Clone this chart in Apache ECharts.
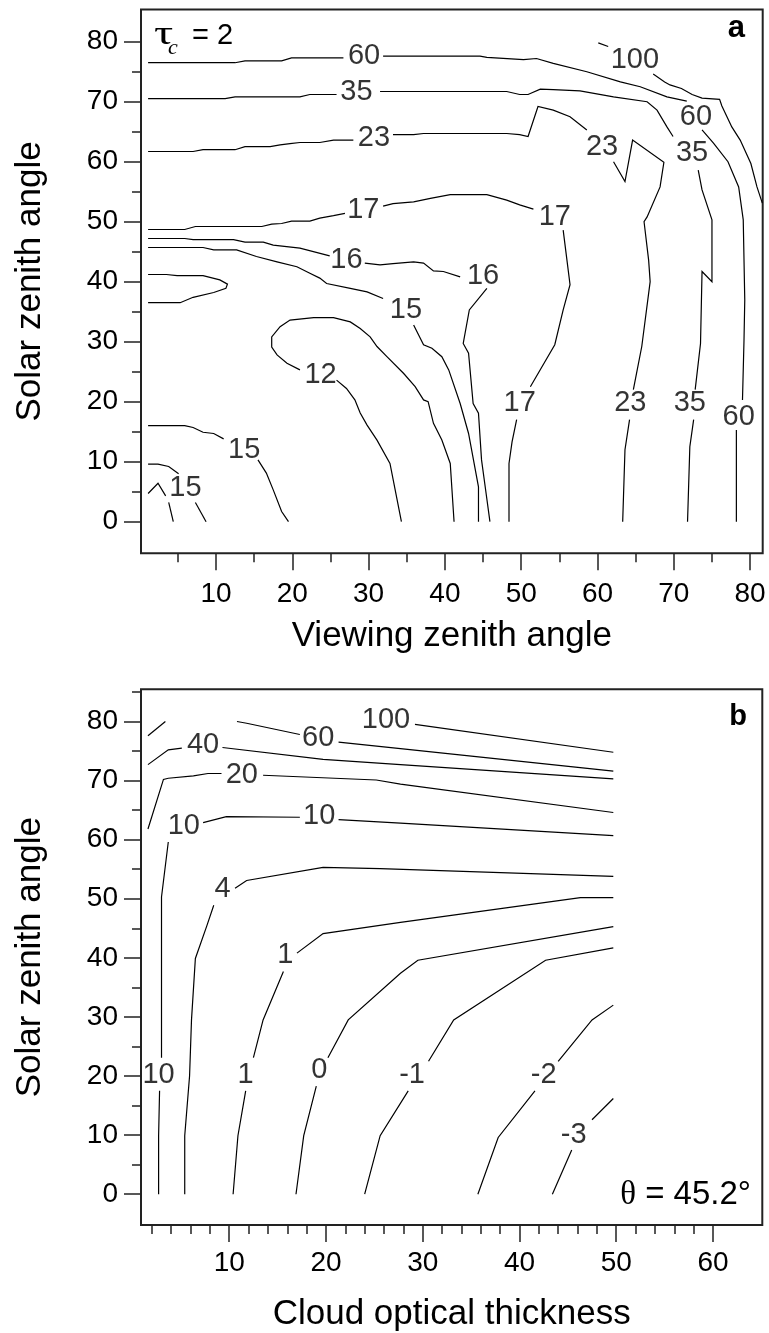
<!DOCTYPE html>
<html><head><meta charset="utf-8">
<script src="https://cdn.jsdelivr.net/npm/echarts@6/dist/echarts.min.js"></script>
<style>html,body{margin:0;padding:0;background:#fff}#c{width:769px;height:1333px}</style>
</head><body><div id="c"></div>
<script>
// ---------- axis ticks ----------
const aTicksX = [10,20,30,40,50,60,70,80];
const aMinorX = [5,15,25,35,45,55,65,75];
const aTicksY = [0,10,20,30,40,50,60,70,80];
const aMinorY = [5,15,25,35,45,55,65,75];
const bTicksX = [10,20,30,40,50,60];
const bMinorX = [2,4,6,8,12,14,16,18,22,24,26,28,32,34,36,38,42,44,46,48,52,54,56,58];
const bTicksY = [0,10,20,30,40,50,60,70,80];
const bMinorY = [5,15,25,35,45,55,65,75,85];

// ---------- panel a contours (viewing zenith, solar zenith) ----------
const a100 = [
  [[60.1,79.8],[61.4,79.2]],
  [[67.3,74.6],[68.8,73.3],[69.5,72.8],[71.0,72.2],[72.4,71.2],[73.7,70.6],[76.0,70.4],[76.3,69.3],[77.6,65.8],[78.7,63.6],[80.1,59.7],[80.9,55.8],[81.6,53.1]]
];
const a60 = [
  [[1.1,76.5],[12.5,76.5],[13.8,76.8],[18.6,76.8],[19.9,77.3],[26.7,77.3]],
  [[31.9,77.6],[44.6,77.6],[45.5,77.4],[50.3,77.0],[52.0,77.2],[54.2,76.4],[58.6,75.0],[63.0,73.3],[65.6,72.5],[69.1,70.8],[71.7,70.1]],
  [[73.7,65.3],[75.2,63.1],[77.1,60.0],[78.5,55.8],[79.1,50.3],[79.3,37.0],[79.2,30.3],[79.0,20.3]],
  [[78.2,15.3],[78.2,9.7],[78.2,0]]
];
const a35 = [
  [[1.1,70.5],[11.2,70.5],[12.5,70.8],[21.0,70.8],[22.3,71.2],[25.8,71.2]],
  [[31.5,71.7],[48.1,71.7],[49.8,71.2],[50.9,71.2],[52.5,72.1],[54.2,72.0],[57.7,71.8],[62.1,70.8],[66.5,70.0],[67.8,68.6],[69.1,65.8],[69.9,64.2]],
  [[73.2,58.6],[73.7,55.3],[75.0,50.3],[75.0,40.0],[73.7,41.7],[73.5,29.7],[72.8,22.0]],
  [[72.6,17.0],[72.1,12.5],[71.8,0]]
];
const a23 = [
  [[1.1,61.7],[7.0,61.7],[8.3,62.0],[12.5,62.0],[13.8,62.5],[17.1,62.5],[18.4,62.8],[19.7,63.0],[21.0,63.2],[23.6,63.2],[25.4,63.6],[28.0,63.6]],
  [[33.2,64.5],[35.9,64.5],[37.2,64.7],[48.1,64.7],[49.8,64.5],[50.9,64.2],[52.2,69.2],[54.2,68.6],[56.4,67.5],[58.6,65.3]],
  [[62.1,60.0],[63.6,56.7],[64.6,63.6],[68.7,59.9],[68.2,55.8],[66.5,50.8],[66.1,50.0],[66.7,43.6],[66.9,40.0],[65.8,29.2],[64.7,22.0]],
  [[64.2,17.0],[63.6,12.0],[63.3,0]]
];
const a17 = [
  [[1.1,48.7],[5.9,48.7],[7.3,49.2],[16.0,49.2],[17.3,49.6],[18.6,49.7],[19.9,50.1],[22.3,50.1],[23.6,50.6],[25.4,51.0],[26.9,51.4]],
  [[31.9,52.6],[33.2,53.0],[35.9,53.3],[38.1,53.9],[40.7,54.5],[45.5,54.5],[48.1,53.6],[49.8,52.8],[51.6,52.1]],
  [[55.5,48.6],[56.4,39.5],[55.5,35.3],[54.4,29.5],[51.2,22.5]],
  [[49.4,17.0],[48.8,13.3],[48.4,9.7],[48.4,0]]
];
const a16 = [
  [[1.1,47.2],[5.9,47.2],[7.0,47.0],[12.3,47.0],[13.8,46.6],[16.2,46.6],[17.5,46.1],[21.0,45.6],[24.9,44.3]],
  [[29.5,43.1],[31.5,42.8],[33.2,43.0],[35.9,43.3],[37.2,43.1],[38.5,41.8],[39.8,41.7],[42.0,40.8]],
  [[45.5,38.9],[43.2,35.3],[42.4,29.7],[43.1,28.1],[43.7,19.7],[44.4,18.1],[44.8,10.3],[45.4,4.7],[45.9,0]]
];
const a15 = [
  [[1.1,45.7],[8.3,45.7],[9.7,45.3],[12.7,45.3],[15.3,44.2],[18.0,43.3],[20.6,42.5],[22.3,41.4],[23.6,40.6],[24.5,39.7],[27.6,38.9],[29.8,38.3],[31.9,37.2]],
  [[35.9,32.8],[37.2,29.5],[38.3,28.9],[39.6,27.5],[40.5,25.3],[42.0,19.7],[43.1,14.7],[44.4,5.8],[44.4,0]],
  [[1.1,41.2],[3.5,41.2],[4.9,41.0],[8.3,41.0],[10.5,40.3],[11.5,39.6],[11.3,38.9],[9.7,38.2],[7.0,37.4],[5.3,36.5],[1.1,36.5]],
  [[1.1,16.0],[5.9,16.0],[7.0,15.7],[8.3,14.9],[9.7,14.7],[11.0,13.8]],
  [[15.5,10.3],[16.6,8.1],[17.5,5.3],[18.6,1.7],[19.5,0]],
  [[1.1,9.6],[2.4,9.6],[3.8,9.2],[5.1,8.0]],
  [[7.3,3.2],[8.7,0]],
  [[1.1,4.7],[2.4,6.4],[3.4,4.3]],
  [[3.8,3.2],[4.4,0]]
];
const a12 = [
  [[41.2,0],[40.7,9.7],[39.6,13.6],[38.5,16.4],[37.8,20.0],[37.2,20.3],[36.1,22.5],[34.6,24.7],[32.4,27.5],[31.1,29.2],[30.2,30.8],[28.9,32.2],[27.6,33.3],[25.4,34.0],[22.8,34.0],[19.7,33.6],[18.4,32.5],[17.3,30.8],[17.3,29.1],[18.0,27.8],[19.3,26.4],[21.0,25.3]],
  [[25.8,23.6],[27.1,22.2],[28.2,20.3],[28.9,18.1],[29.8,16.1],[31.1,13.6],[32.8,9.7],[34.3,0]]
];
const aLabels = [
  ['60',29.4,77.6],['35',28.4,71.7],['23',30.7,63.9],['17',29.3,52.0],['16',27.1,43.6],
  ['100',64.9,77.0],['60',72.9,67.5],['35',72.4,61.4],['23',60.6,62.5],['17',54.4,50.8],
  ['16',45.0,41.0],['15',34.9,35.2],['12',23.7,24.5],['17',49.8,19.8],['23',64.3,19.8],
  ['35',72.1,19.8],['60',78.5,17.5],['15',13.7,12.0],['15',6.0,5.6]
];

// ---------- panel b contours (cloud optical thickness, solar zenith) ----------
const b100 = [[[29.2,79.5],[49.7,74.8]]];
const b60 = [
  [[1.6,77.6],[3.4,80.0]],
  [[10.8,80.0],[11.8,79.7],[17.3,77.8]],
  [[21.3,76.5],[27.7,75.4],[49.7,71.6]]
];
const b40 = [
  [[1.6,72.7],[3.7,75.2],[5.1,75.5]],
  [[9.3,75.6],[19.7,73.6],[27.7,72.7],[49.7,70.3]]
];
const b20 = [
  [[1.6,61.8],[3.2,70.2],[3.7,70.4],[6.3,70.8],[7.8,71.2],[9.2,71.2]],
  [[13.5,70.9],[25.2,70.1],[27.7,69.4],[49.7,64.6]]
];
const b10 = [
  [[2.7,0],[2.7,9.9],[2.8,17.5]],
  [[3.0,23.1],[3.0,39.9],[3.0,50.3],[3.7,59.6]],
  [[7.3,62.9],[9.7,63.9],[17.3,63.8]],
  [[21.3,63.4],[27.7,62.8],[49.7,60.7]]
];
const b4 = [
  [[49.7,53.8],[25.6,55.1],[19.7,55.3],[11.8,53.1],[10.6,51.8]],
  [[8.4,48.9],[7.7,45.5],[6.5,39.9],[6.1,29.5],[5.9,20.0],[5.4,9.9],[5.4,0]]
];
const b1 = [
  [[49.7,50.2],[46.3,50.2],[27.7,46.0],[19.7,44.1],[17.0,40.8]],
  [[15.6,37.7],[13.5,29.5],[12.5,23.1]],
  [[11.7,17.5],[10.9,9.9],[10.4,0]]
];
const b0 = [
  [[49.7,45.3],[29.5,39.6],[27.7,37.4],[22.3,29.5],[20.2,23.1]],
  [[19.0,18.3],[17.7,9.9],[16.9,0]]
];
const bm1 = [
  [[49.7,41.7],[42.7,39.6],[33.2,29.5],[30.6,22.5]],
  [[28.5,17.5],[25.6,9.9],[24.0,0]]
];
const bm2 = [
  [[49.7,32.0],[47.5,29.5],[44.0,22.5]],
  [[41.6,17.5],[37.8,9.6],[35.7,0]]
];
const bm3 = [
  [[49.7,16.2],[47.5,12.6]],
  [[45.4,7.5],[43.4,0]]
];
const bLabels = [
  ['100',26.2,80.3],['60',19.2,77.2],['40',7.3,76.1],['20',11.3,71.0],['10',5.3,62.3],
  ['10',19.3,64.0],['4',9.3,51.6],['1',15.8,40.5],['10',2.7,20.2],['1',11.7,20.2],
  ['0',19.3,21.0],['-1',28.9,20.2],['-2',42.5,20.2],['-3',45.6,10.1]
];

// ---------- build ----------
const FONT = '"Liberation Sans", Arial, Helvetica, sans-serif';
const SERIF = '"Liberation Serif", "DejaVu Serif", serif';
const INK = '#000';
const FRAME = '#222';

function pieces(groups){ const out=[]; groups.forEach(g=>g.forEach(p=>out.push({coords:p}))); return out; }
function labels(list){ return list.map(l=>({name:l[0], value:[l[1],l[2]]})); }

function majorX(grid,min,max,ticks,name,gap,margin){
  return {type:'value',gridIndex:grid,min:min,max:max,position:'bottom',
    axisLine:{show:false,onZero:false},splitLine:{show:false},
    axisTick:{show:true,customValues:ticks,length:17,lineStyle:{color:FRAME,width:1.5}},
    axisLabel:{show:true,customValues:ticks,margin:margin,fontSize:28,color:INK,fontFamily:FONT},
    name:name,nameLocation:'middle',nameGap:gap,
    nameTextStyle:{fontSize:35,color:INK,fontFamily:FONT}};
}
function minorX(grid,min,max,ticks){
  return {type:'value',gridIndex:grid,min:min,max:max,position:'bottom',offset:0,
    axisLine:{show:false,onZero:false},splitLine:{show:false},axisLabel:{show:false},
    axisTick:{show:true,customValues:ticks,length:9,lineStyle:{color:FRAME,width:1.5}}};
}
function majorY(grid,min,max,ticks,gap){
  return {type:'value',gridIndex:grid,min:min,max:max,position:'left',
    axisLine:{show:false,onZero:false},splitLine:{show:false},
    axisTick:{show:true,customValues:ticks,length:17,lineStyle:{color:FRAME,width:1.5}},
    axisLabel:{show:true,customValues:ticks,margin:23,fontSize:28,color:INK,fontFamily:FONT},
    name:'Solar zenith angle',nameLocation:'middle',nameGap:gap,
    nameTextStyle:{fontSize:35,color:INK,fontFamily:FONT}};
}
function minorY(grid,min,max,ticks){
  return {type:'value',gridIndex:grid,min:min,max:max,position:'left',offset:0,
    axisLine:{show:false,onZero:false},splitLine:{show:false},axisLabel:{show:false},
    axisTick:{show:true,customValues:ticks,length:9,lineStyle:{color:FRAME,width:1.5}}};
}
function lineSeries(xi,yi,data){
  return {type:'lines',coordinateSystem:'cartesian2d',xAxisIndex:xi,yAxisIndex:yi,polyline:true,
    silent:true,data:data,lineStyle:{color:INK,width:1.2,opacity:1,curveness:0},z:3};
}
function labelSeries(xi,yi,data){
  return {type:'scatter',xAxisIndex:xi,yAxisIndex:yi,symbolSize:1,silent:true,
    itemStyle:{color:'rgba(0,0,0,0)'},data:data,z:4,
    label:{show:true,position:'inside',formatter:'{b}',fontSize:29,color:INK,fontFamily:FONT}};
}

const chart = echarts.init(document.getElementById('c'), null, {renderer:'canvas'});
chart.setOption({
  animation:false,
  backgroundColor:'#fff',
  grid:[
    {left:141,top:9.5,width:621.7,height:543.8,show:true,borderColor:FRAME,borderWidth:2,backgroundColor:'transparent'},
    {left:141,top:689.3,width:621.3,height:539,show:true,borderColor:FRAME,borderWidth:2,backgroundColor:'transparent'}
  ],
  xAxis:[
    majorX(0,0.17,81.65,aTicksX,'Viewing zenith angle',66,27),
    minorX(0,0.17,81.65,aMinorX),
    majorX(1,0.88,65.1,bTicksX,'Cloud optical thickness',72,24),
    minorX(1,0.88,65.1,bMinorX)
  ],
  yAxis:[
    majorY(0,-5.27,85.37,aTicksY,93),
    minorY(0,-5.27,85.37,aMinorY),
    majorY(1,-5.21,85.45,bTicksY,93),
    minorY(1,-5.21,85.45,bMinorY)
  ],
  series:[
    lineSeries(0,0,pieces([a100,a60,a35,a23,a17,a16,a15,a12])),
    labelSeries(0,0,labels(aLabels)),
    lineSeries(2,2,pieces([b100,b60,b40,b20,b10,b4,b1,b0,bm1,bm2,bm3])),
    labelSeries(2,2,labels(bLabels))
  ],
  graphic:[
    {type:'text',style:{x:745,y:28,text:'a',align:'right',textAlign:'right',verticalAlign:'middle',textVerticalAlign:'middle',fontSize:31,fontWeight:'bold',fontFamily:FONT,fill:INK}},
    {type:'text',style:{x:747,y:717,text:'b',align:'right',textAlign:'right',verticalAlign:'middle',textVerticalAlign:'middle',fontSize:29,fontWeight:'bold',fontFamily:FONT,fill:INK}},
    {type:'text',x:154,y:35,scaleX:1.45,scaleY:1,style:{x:0,y:0,text:'τ',align:'left',textAlign:'left',verticalAlign:'middle',textVerticalAlign:'middle',fontSize:33,fontFamily:SERIF,fill:INK}},
    {type:'text',style:{x:168,y:48,text:'c',align:'left',textAlign:'left',verticalAlign:'middle',textVerticalAlign:'middle',fontSize:22,fontStyle:'italic',fontFamily:SERIF,fill:INK}},
    {type:'text',style:{x:192,y:36,text:'= 2',align:'left',textAlign:'left',verticalAlign:'middle',textVerticalAlign:'middle',fontSize:29,fontFamily:FONT,fill:INK}},
    {type:'text',style:{x:751,y:1195,text:'{t|θ}{n| = 45.2°}',align:'right',textAlign:'right',verticalAlign:'middle',textVerticalAlign:'middle',
      rich:{t:{fontSize:33,fontFamily:SERIF,fill:INK,color:INK},n:{fontSize:33,fontFamily:FONT,fill:INK,color:INK}}}}
  ]
});
</script>
</body></html>
